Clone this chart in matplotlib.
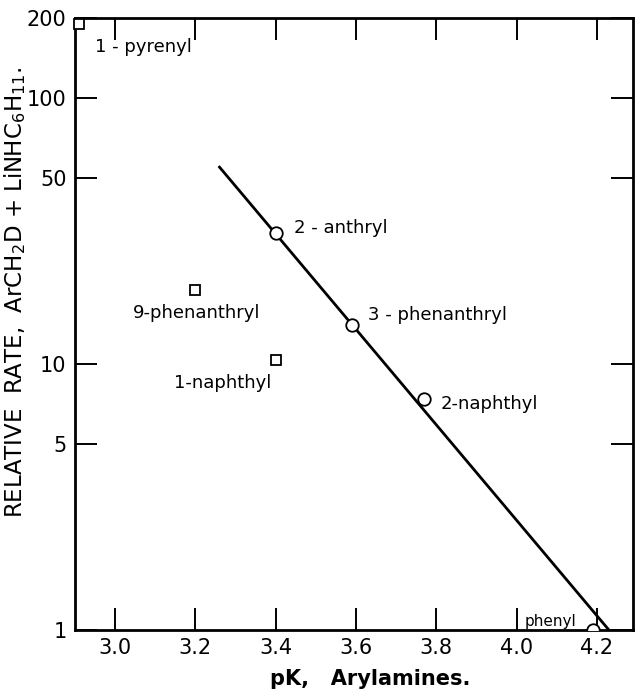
import matplotlib
matplotlib.use("Agg")
import matplotlib.pyplot as plt
from matplotlib.ticker import FixedLocator, NullLocator

# arylamines on the correlation line (circles)
line_names = ['2 - anthryl', '3 - phenanthryl', '2-naphthyl', 'phenyl']
line_pk = [3.40, 3.59, 3.77, 4.19]
line_rate = [31.0, 14.0, 7.4, 1.0]

# deviating arylamines (squares)
off_names = ['1 - pyrenyl', '9-phenanthryl', '1-naphthyl']
off_pk = [2.91, 3.20, 3.40]
off_rate = [190.0, 19.0, 10.4]

# correlation line end points
fit_pk = [3.26, 4.23]
fit_rate = [55.0, 1.0]

x_ticks = [3.0, 3.2, 3.4, 3.6, 3.8, 4.0, 4.2]
y_ticks = [1, 5, 10, 50, 100, 200]

plt.rcParams['font.family'] = ['DejaVu Sans']
plt.rcParams['mathtext.fontset'] = 'custom'
plt.rcParams['mathtext.rm'] = 'Liberation Sans Narrow'
plt.rcParams['mathtext.it'] = 'Liberation Sans Narrow'

fig = plt.figure(figsize=(6.36, 6.9), dpi=100)
ax = fig.add_axes([75 / 636, 60 / 690, 558 / 636, 612 / 690])

ax.plot(fit_pk, fit_rate, color='black', lw=2.0, zorder=2)
ax.plot(line_pk, line_rate, 'o', ms=9, mfc='white', mec='black', mew=1.3, zorder=3)
ax.plot(off_pk, off_rate, 's', ms=6.5, mfc='white', mec='black', mew=1.3, zorder=3,
        clip_on=False)

ax.set_yscale('log')
ax.set_xlim(2.9, 4.29)
ax.set_ylim(1, 200)

ax.xaxis.set_major_locator(FixedLocator(x_ticks))
ax.set_xticklabels([f'{v:.1f}' for v in x_ticks])
ax.yaxis.set_major_locator(FixedLocator(y_ticks))
ax.yaxis.set_minor_locator(NullLocator())
ax.set_yticklabels([str(v) for v in y_ticks])

ax.tick_params(which='major', direction='in', length=16, width=1.4,
               top=True, right=True, labelsize=15, pad=6)
for s in ax.spines.values():
    s.set_linewidth(2.0)

# point labels
lab = dict(fontsize=13, color='black', va='center')
ax.text(2.95, 155, off_names[0], ha='left', **lab)
ax.text(3.204, 15.5, off_names[1], ha='center', **lab)
ax.text(3.39, 8.5, off_names[2], ha='right', **lab)
ax.text(3.445, 32.5, line_names[0], ha='left', **lab)
ax.text(3.63, 15.3, line_names[1], ha='left', **lab)
ax.text(3.81, 7.1, line_names[2], ha='left', **lab)
ax.text(4.02, 1.08, line_names[3], ha='left', fontsize=11, color='black', va='center')

ax.set_ylabel(r'RELATIVE  RATE,  ArCH$_2$D + LiNHC$_6$H$_{11}$.', fontsize=16.5,
              family=['Liberation Sans Narrow', 'DejaVu Sans'])
ax.yaxis.set_label_coords(-0.084, 0.552)
ax.set_xlabel('pK,   Arylamines.', fontsize=15, fontweight='bold', labelpad=8)
ax.xaxis.label.set_x((370 - 75) / 558)

fig.savefig('out.png', dpi=100)
